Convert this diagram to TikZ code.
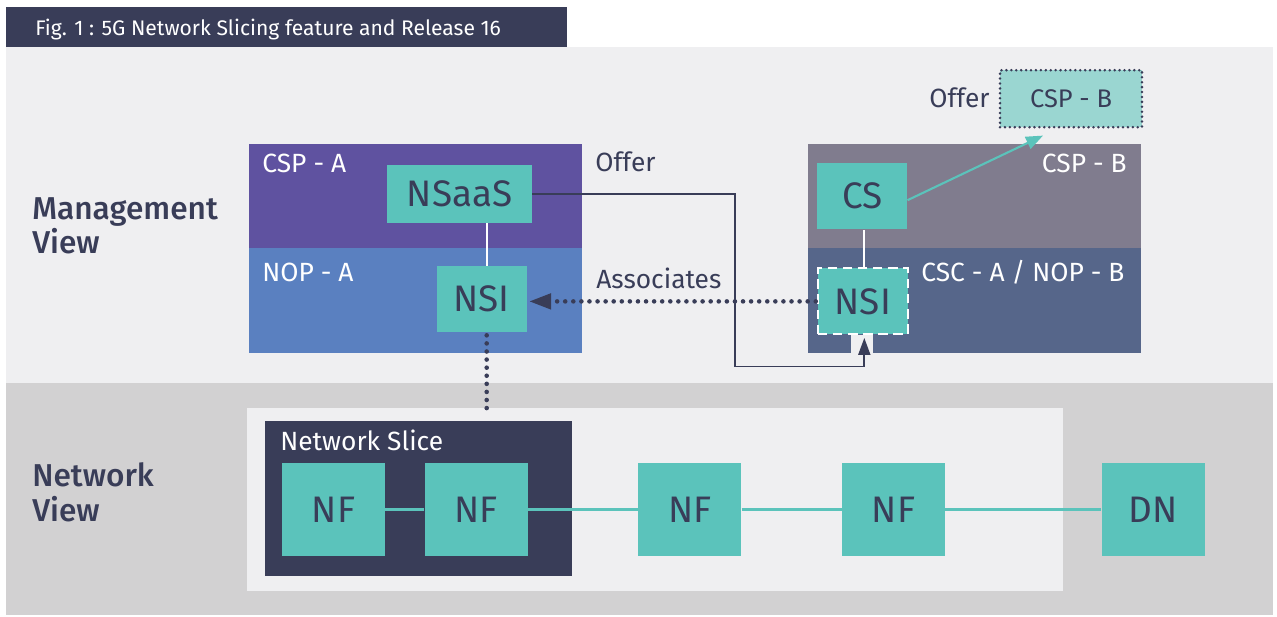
\documentclass[tikz,border=0pt]{standalone}
\usepackage{fontspec}
\setmainfont{Fira Sans}
\newfontfamily\medfont{Fira Sans Medium}
\usetikzlibrary{positioning,arrows.meta}
\definecolor{navy}{HTML}{393D58}
\definecolor{mgmtgray}{HTML}{EFEFF1}
\definecolor{netgray}{HTML}{D2D1D2}
\definecolor{cspapurple}{HTML}{5F52A0}
\definecolor{nopablue}{HTML}{5A80C0}
\definecolor{cspbgray}{HTML}{807C8E}
\definecolor{nopbslate}{HTML}{56668A}
\definecolor{nfteal}{HTML}{5BC3BB}
\definecolor{offerteal}{HTML}{9AD6D1}
\tikzstyle{box} = [fill=nfteal, text=navy, inner sep=0pt, font=\fontsize{21}{25}\selectfont]
\tikzstyle{nfbox} = [box, minimum width=2.06cm, minimum height=1.86cm]
\tikzstyle{nsibox} = [box, minimum width=1.8cm, minimum height=1.32cm]
\tikzstyle{lbl} = [white, anchor=base west, inner sep=0pt, font=\fontsize{15}{18}\selectfont]
\tikzstyle{darklbl} = [lbl, navy]
\tikzstyle{viewlbl} = [navy, anchor=base west, inner sep=0pt, align=left, font=\medfont\fontsize{18}{19.7}\selectfont]
\tikzstyle{dots} = [navy, line width=2.6pt, line cap=round, dash pattern=on 0pt off 4.6pt]
\tikzstyle{link} = [nfteal, line width=1.2pt]

\begin{document}
\begin{tikzpicture}[x=0.02cm,y=-0.02cm]
\useasboundingbox (0,0) rectangle (1277,617);
\fill[white] (0,0) rectangle (1277,617);

% bands and title
\fill[mgmtgray] (6,47) rectangle (1273,383);
\fill[netgray] (6,383) rectangle (1273,615);
\fill[navy] (6,7) rectangle (567,47);
\node[lbl, font=\fontsize{12}{14}\selectfont] (title) at (35,36) {Fig. 1 : 5G Network Slicing feature and Release 16};

\node[viewlbl] (mview) at (32,254) {Management\\View};
\node[viewlbl] (nview) at (32,521.5) {Network\\View};

% management view
\fill[cspapurple] (249,144) rectangle (582,248);
\fill[nopablue] (249,248) rectangle (582,353);
\fill[cspbgray] (808,144) rectangle (1141,248);
\fill[nopbslate] (808,248) rectangle (1141,353);
\fill[mgmtgray] (851,335) rectangle (873,353);

\node[lbl] (cspA) at (262,173) {CSP - A};
\node[lbl] (nopA) at (262,282) {NOP - A};
\node[lbl, anchor=base east] (cspB) at (1127,173) {CSP - B};
\node[lbl] (nopB) at (921,282) {CSC - A / NOP - B};

\node[box, minimum width=2.9cm, minimum height=1.16cm] (nsaas) at (459.5,194) {NSaaS};
\node[nsibox] (nsiA) at (481.7,299) {NSI};
\node[nsibox] (cs) at (862.2,196.2) {CS};
\node[nsibox, draw=white, line width=1.2pt, dash pattern=on 5.4pt off 3.2pt] (nsiB) at (862.8,301.4) {NSI};

\node[box, fill=offerteal, draw=navy, line width=1.6pt, line cap=round, dash pattern=on 0pt off 2.8pt,
  minimum width=2.84cm, minimum height=1.14cm, font=\fontsize{14.5}{17}\selectfont] (offerB) at (1071,98.7) {CSP - B};

\node[darklbl] (offerL) at (929,108) {Offer};
\node[darklbl] (offerM) at (595,172) {Offer};
\node[darklbl] (assoc) at (596,289) {Associates};

\draw[white, line width=1.2pt] ([xshift=0.1cm]nsiA.north) -- ([xshift=0.1cm]nsiA.north |- nsaas.south);
\draw[white, line width=1.2pt] ([xshift=0.03cm]nsiB.north) -- ([xshift=0.03cm]nsiB.north |- cs.south);

\draw[link, -{Triangle[length=0.34cm,width=0.26cm]}] ([yshift=-0.08cm]cs.east) -- ([xshift=-0.56cm,yshift=-0.14cm]offerB.south);

\coordinate (bend) at (735,366.5);
\draw[navy, line width=1.1pt, -{Triangle[length=0.34cm,width=0.24cm]}] (nsaas.east) -| (bend) -| ([xshift=0.03cm,yshift=-0.05cm]nsiB.south);

\draw[dots, shorten >=0.04cm, -{Triangle[length=0.44cm,width=0.3cm]}] ([xshift=-0.02cm]nsiB.west) -- (nsiA.east |- nsiB.west);

% network view
\fill[mgmtgray] (247,408) rectangle (1063,591);
\node[fill=navy, minimum width=6.14cm, minimum height=3.1cm, anchor=north west, inner sep=0pt] (slice) at (265,421) {};
\node[lbl] (sliceL) at (280,451) {Network Slice};

\draw[dots, shorten <=0.06cm] ([xshift=0.1cm]nsiA.south) -- ([xshift=0.1cm,yshift=0.12cm]nsiA.south |- slice.north);

\node[nfbox] (nf1) at (333.5,509.5) {NF};
\node[nfbox, right=0.78cm of nf1] (nf2) {NF};
\node[nfbox, right=2.2cm of nf2] (nf3) {NF};
\node[nfbox, right=2cm of nf3] (nf4) {NF};
\node[nfbox, right=3.12cm of nf4] (dn) {DN};

\draw[link] (nf1) -- (nf2);
\draw[link] (nf2) -- (nf3);
\draw[link] (nf3) -- (nf4);
\draw[link] (nf4) -- (dn);
\end{tikzpicture}
\end{document}
